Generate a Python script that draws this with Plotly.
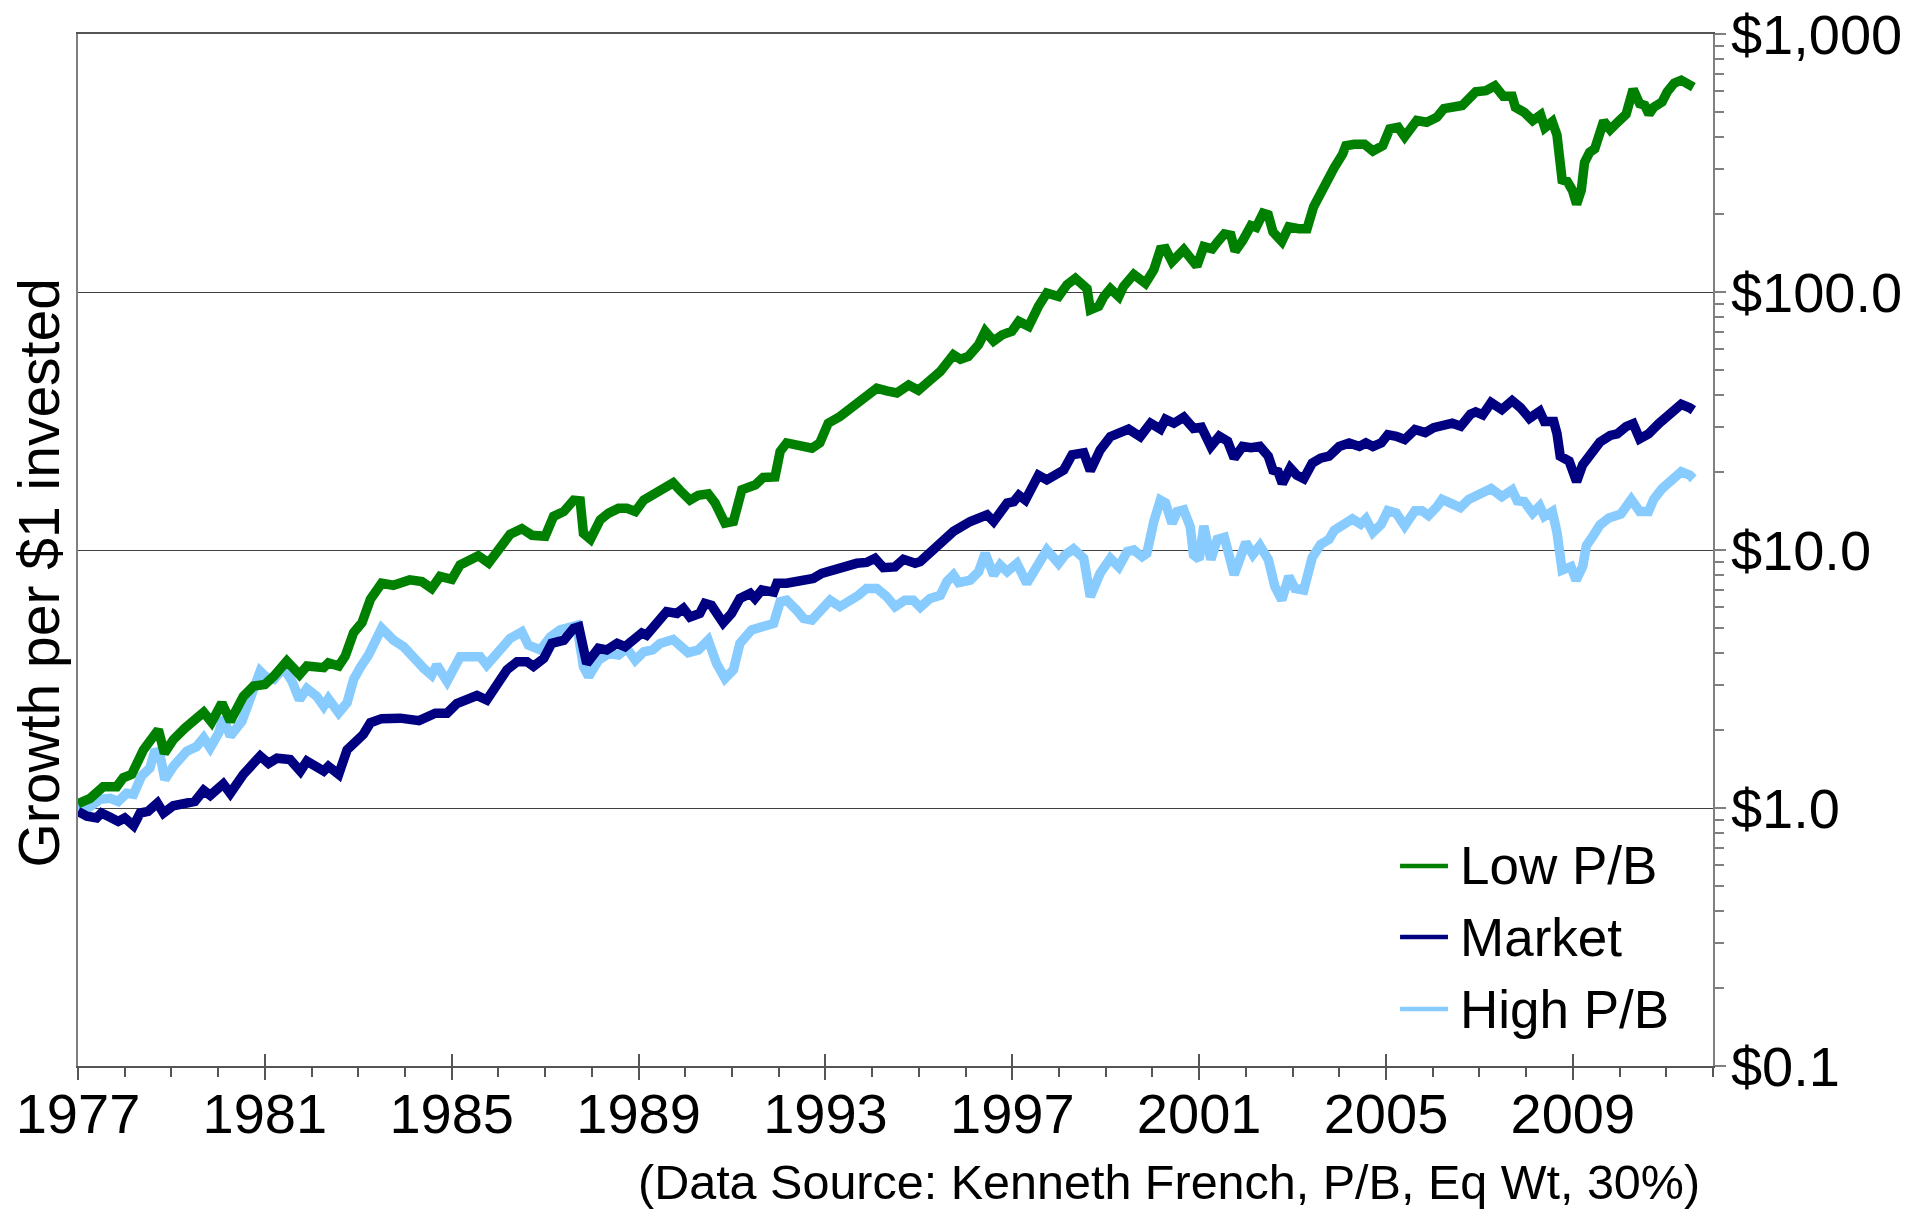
import plotly.graph_objects as go

FONT = "Liberation Sans, Arial, sans-serif"

# ---------------- data ----------------
low_pb_years = [
    1977.0, 1977.26, 1977.54, 1977.83, 1977.97, 1978.15, 1978.4, 1978.58, 1978.72, 1978.85,
    1979.04, 1979.29, 1979.5, 1979.69, 1979.86, 1980.08, 1980.26, 1980.54, 1980.76, 1981.0,
    1981.19, 1981.47, 1981.74, 1981.9, 1982.26, 1982.36, 1982.58, 1982.72, 1982.9, 1983.08,
    1983.26, 1983.5, 1983.75, 1984.1, 1984.36, 1984.57, 1984.75, 1985.0, 1985.18, 1985.57,
    1985.79, 1986.0, 1986.25, 1986.5, 1986.72, 1987.0, 1987.18, 1987.4, 1987.61, 1987.75,
    1987.82, 1987.97, 1988.18, 1988.36, 1988.57, 1988.75, 1988.93, 1989.11, 1989.25, 1989.42,
    1989.74, 1989.89, 1990.1, 1990.28, 1990.49, 1990.64, 1990.85, 1991.03, 1991.21, 1991.5,
    1991.67, 1991.92, 1992.03, 1992.17, 1992.53, 1992.71, 1992.88, 1993.06, 1993.31, 1993.6,
    1993.88, 1994.1, 1994.31, 1994.53, 1994.78, 1994.99, 1995.24, 1995.46, 1995.74, 1995.89,
    1996.06, 1996.28, 1996.42, 1996.6, 1996.78, 1996.99, 1997.14, 1997.35, 1997.56, 1997.74,
    1997.99, 1998.17, 1998.35, 1998.6, 1998.67, 1998.85, 1998.96, 1999.1, 1999.28, 1999.38,
    1999.6, 1999.85, 2000.03, 2000.17, 2000.28, 2000.42, 2000.67, 2000.81, 2000.95, 2001.1,
    2001.28, 2001.39, 2001.54, 2001.68, 2001.77, 2001.93, 2002.11, 2002.22, 2002.37, 2002.48,
    2002.58, 2002.77, 2002.92, 2003.13, 2003.31, 2003.45, 2003.63, 2003.81, 2003.89, 2004.07,
    2004.14, 2004.32, 2004.54, 2004.72, 2004.93, 2005.08, 2005.26, 2005.4, 2005.66, 2005.87,
    2006.09, 2006.24, 2006.4, 2006.63, 2006.92, 2007.14, 2007.33, 2007.51, 2007.7, 2007.77,
    2007.96, 2008.14, 2008.31, 2008.4, 2008.56, 2008.66, 2008.77, 2008.88, 2008.99, 2009.08,
    2009.18, 2009.25, 2009.36, 2009.47, 2009.66, 2009.8, 2009.95, 2010.14, 2010.29, 2010.43,
    2010.54, 2010.63, 2010.73, 2010.91, 2011.02, 2011.17, 2011.32, 2011.5, 2011.58,
]
low_pb_values = [
    1.04, 1.09, 1.21, 1.21, 1.31, 1.35, 1.68, 1.84, 2.01, 1.63,
    1.84, 2.04, 2.17, 2.35, 2.15, 2.55, 2.17, 2.71, 2.97, 3.01,
    3.24, 3.71, 3.29, 3.55, 3.50, 3.65, 3.55, 3.88, 4.78, 5.23,
    6.44, 7.43, 7.3, 7.66, 7.55, 7.1, 7.9, 7.7, 8.75, 9.5,
    8.9, 9.86, 11.5, 12.1, 11.4, 11.3, 13.5, 14.1, 15.6, 15.5,
    11.6, 11.0, 13.1, 13.9, 14.5, 14.5, 14.1, 15.6, 16.1, 17.1,
    18.2, 17.0, 15.6, 16.3, 16.5, 15.2, 12.7, 12.9, 17.1, 17.9,
    19.1, 19.2, 24.1, 26.0, 25.3, 24.8, 26.0, 31.0, 32.9, 36.0,
    39.0, 42.4, 41.4, 40.6, 43.6, 41.6, 45.5, 49.2, 57.1, 54.9,
    56.3, 62.5, 70.4, 64.5, 68.2, 70.4, 76.9, 73.6, 88.0, 99.1,
    96.1, 106.7, 113, 103, 85.3, 88, 96, 103, 96, 105,
    117, 108, 122, 146, 147, 131, 146, 137, 126, 150,
    147, 156, 168, 166, 144, 158, 181, 178, 202, 199,
    171, 157, 179, 176, 176, 214, 249, 277, 303, 342,
    369, 374, 374, 352, 369, 429, 435, 400, 462, 455,
    476, 514, 520, 528, 597, 603, 630, 574, 574, 520,
    497, 462, 486, 433, 457, 406, 272, 268, 248, 219,
    248, 318, 348, 359, 460, 426, 453, 489, 611, 537,
    529, 489, 520, 545, 597, 645, 662, 635, 622,
]

market_years = [
    1977.0, 1977.19, 1977.4, 1977.5, 1977.69, 1977.86, 1978.0, 1978.19, 1978.33, 1978.5,
    1978.7, 1978.83, 1979.04, 1979.22, 1979.36, 1979.5, 1979.69, 1979.83, 1980.11, 1980.26,
    1980.54, 1980.72, 1980.9, 1981.08, 1981.26, 1981.54, 1981.76, 1981.9, 1982.11, 1982.26,
    1982.36, 1982.58, 1982.76, 1982.9, 1983.11, 1983.26, 1983.5, 1983.9, 1984.3, 1984.65,
    1984.9, 1985.11, 1985.36, 1985.54, 1985.75, 1985.97, 1986.18, 1986.4, 1986.61, 1986.75,
    1986.97, 1987.14, 1987.4, 1987.61, 1987.72, 1987.89, 1988.14, 1988.32, 1988.54, 1988.71,
    1988.89, 1989.07, 1989.17, 1989.39, 1989.6, 1989.82, 1989.96, 1990.1, 1990.31, 1990.42,
    1990.56, 1990.81, 1990.99, 1991.17, 1991.39, 1991.49, 1991.64, 1991.89, 1991.96, 1992.17,
    1992.46, 1992.74, 1992.92, 1993.24, 1993.46, 1993.67, 1993.88, 1994.06, 1994.24, 1994.49,
    1994.67, 1994.92, 1995.03, 1995.32, 1995.53, 1995.74, 1996.1, 1996.35, 1996.46, 1996.6,
    1996.89, 1997.03, 1997.14, 1997.28, 1997.56, 1997.74, 1997.85, 1998.1, 1998.28, 1998.53,
    1998.67, 1998.88, 1999.1, 1999.31, 1999.49, 1999.74, 1999.96, 2000.17, 2000.28, 2000.46,
    2000.67, 2000.88, 2001.05, 2001.25, 2001.43, 2001.61, 2001.75, 2001.93, 2002.11, 2002.3,
    2002.48, 2002.58, 2002.69, 2002.78, 2002.95, 2003.09, 2003.24, 2003.42, 2003.6, 2003.78,
    2004.0, 2004.21, 2004.43, 2004.57, 2004.72, 2004.9, 2005.04, 2005.22, 2005.4, 2005.62,
    2005.84, 2006.02, 2006.24, 2006.42, 2006.6, 2006.81, 2006.92, 2007.07, 2007.25, 2007.48,
    2007.7, 2007.88, 2008.07, 2008.29, 2008.39, 2008.59, 2008.66, 2008.73, 2008.92, 2009.08,
    2009.21, 2009.36, 2009.58, 2009.8, 2009.95, 2010.14, 2010.29, 2010.43, 2010.62, 2010.84,
    2011.06, 2011.32, 2011.5, 2011.58,
]
market_values = [
    0.97, 0.93, 0.915, 0.956, 0.92, 0.887, 0.915, 0.854, 0.956, 0.97,
    1.045, 0.956, 1.02, 1.03, 1.06, 1.06, 1.17, 1.12, 1.24, 1.14,
    1.35, 1.45, 1.59, 1.49, 1.56, 1.54, 1.39, 1.52, 1.45, 1.39,
    1.45, 1.35, 1.68, 1.79, 1.93, 2.14, 2.22, 2.23, 2.18, 2.33,
    2.33, 2.54, 2.66, 2.73, 2.62, 3.04, 3.43, 3.69, 3.69, 3.54,
    3.8, 4.35, 4.47, 4.97, 5.04, 3.63, 4.16, 4.1, 4.35, 4.22,
    4.47, 4.77, 4.68, 5.19, 5.77, 5.68, 5.94, 5.5, 5.68, 6.21,
    6.1, 5.22, 5.68, 6.49, 6.79, 6.49, 7.0, 6.87, 7.43, 7.43,
    7.66, 7.76, 8.12, 8.49, 8.6, 8.88, 8.95, 9.29, 8.54, 8.6,
    9.2, 8.88, 9.02, 10.1, 11.0, 11.8, 12.9, 13.3, 13.7, 12.9,
    15.2, 15.4, 16.3, 15.6, 19.5, 18.7, 19.3, 20.4, 23.4, 23.8,
    20.3, 24.4, 27.5, 28.5, 29.4, 27.5, 31.0, 29.4, 32.1, 31.0,
    32.7, 29.6, 29.9, 25.2, 27.6, 26.4, 22.7, 25.2, 24.9, 25.2,
    23.1, 20.4, 20.1, 18.1, 20.8, 19.5, 18.9, 21.7, 22.7, 23.1,
    25.2, 26.0, 25.2, 26.0, 25.2, 26.0, 28.0, 27.6, 26.8, 29.3,
    28.5, 29.8, 30.5, 31.0, 30.2, 33.6, 34.3, 33.4, 37.3, 35.0,
    37.9, 35.6, 32.4, 34.5, 31.5, 31.5, 28.3, 23.1, 22.1, 18.4,
    21.4, 23.5, 26.2, 27.8, 28.2, 30.1, 30.9, 27.0, 28.2, 30.9,
    33.5, 36.7, 35.6, 34.8,
]

high_pb_years = [
    1977.0, 1977.22, 1977.47, 1977.69, 1977.86, 1978.04, 1978.19, 1978.36, 1978.54, 1978.65,
    1978.76, 1978.86, 1979.04, 1979.19, 1979.33, 1979.54, 1979.69, 1979.83, 1980.01, 1980.11,
    1980.26, 1980.51, 1980.72, 1980.9, 1981.04, 1981.19, 1981.4, 1981.58, 1981.74, 1981.9,
    1982.11, 1982.26, 1982.36, 1982.58, 1982.76, 1982.9, 1983.04, 1983.22, 1983.5, 1983.75,
    1983.97, 1984.18, 1984.4, 1984.57, 1984.68, 1984.9, 1985.18, 1985.4, 1985.61, 1985.75,
    1986.04, 1986.25, 1986.5, 1986.64, 1986.9, 1987.11, 1987.32, 1987.57, 1987.68, 1987.82,
    1987.93, 1988.14, 1988.36, 1988.57, 1988.75, 1988.93, 1989.11, 1989.3, 1989.46, 1989.74,
    1990.06, 1990.28, 1990.49, 1990.67, 1990.85, 1991.03, 1991.17, 1991.42, 1991.67, 1991.89,
    1992.03, 1992.17, 1992.38, 1992.53, 1992.71, 1992.92, 1993.1, 1993.31, 1993.49, 1993.71,
    1993.88, 1994.1, 1994.31, 1994.49, 1994.7, 1994.88, 1995.03, 1995.24, 1995.46, 1995.6,
    1995.74, 1995.85, 1996.1, 1996.28, 1996.42, 1996.6, 1996.74, 1996.89, 1997.1, 1997.31,
    1997.46, 1997.74, 1997.99, 1998.13, 1998.31, 1998.53, 1998.67, 1998.88, 1999.1, 1999.28,
    1999.46, 1999.6, 1999.78, 1999.88, 2000.03, 2000.17, 2000.28, 2000.42, 2000.53, 2000.67,
    2000.81, 2000.88, 2001.0, 2001.1, 2001.25, 2001.39, 2001.54, 2001.75, 2002.0, 2002.15,
    2002.3, 2002.48, 2002.62, 2002.77, 2002.92, 2003.05, 2003.24, 2003.42, 2003.6, 2003.78,
    2003.89, 2004.07, 2004.28, 2004.46, 2004.57, 2004.72, 2004.9, 2005.04, 2005.22, 2005.4,
    2005.62, 2005.77, 2005.91, 2006.09, 2006.2, 2006.38, 2006.59, 2006.77, 2007.0, 2007.25,
    2007.48, 2007.7, 2007.81, 2007.96, 2008.14, 2008.29, 2008.39, 2008.56, 2008.66, 2008.77,
    2008.96, 2009.07, 2009.21, 2009.29, 2009.44, 2009.58, 2009.77, 2009.92, 2010.03, 2010.25,
    2010.43, 2010.62, 2010.73, 2010.91, 2011.06, 2011.32, 2011.5, 2011.58,
]
high_pb_values = [
    1.03, 1.0, 1.08, 1.09, 1.06, 1.14, 1.13, 1.33, 1.43, 1.68,
    1.59, 1.29, 1.45, 1.54, 1.66, 1.73, 1.87, 1.71, 1.95, 2.24,
    1.9, 2.17, 2.71, 3.39, 3.2, 3.15, 3.49, 3.1, 2.63, 2.9,
    2.71, 2.48, 2.65, 2.34, 2.56, 3.15, 3.5, 3.92, 4.97, 4.48,
    4.22, 3.8, 3.48, 3.27, 3.58, 3.1, 3.86, 3.86, 3.86, 3.58,
    4.1, 4.54, 4.82, 4.28, 4.1, 4.6, 4.9, 5.1, 5.1, 3.53,
    3.23, 3.74, 3.97, 3.92, 4.16, 3.74, 4.03, 4.1, 4.34, 4.5,
    4.0, 4.1, 4.47, 3.63, 3.18, 3.43, 4.35, 4.9, 5.04, 5.19,
    6.3, 6.39, 5.85, 5.43, 5.35, 5.85, 6.39, 6.03, 6.3, 6.68,
    7.1, 7.1, 6.6, 6.03, 6.39, 6.39, 6.0, 6.49, 6.68, 7.54,
    8.0, 7.47, 7.64, 8.24, 9.7, 8.0, 8.75, 8.24, 8.87, 7.43,
    8.24, 10.0, 8.87, 9.57, 10.1, 9.28, 6.59, 8.12, 9.28, 8.6,
    9.86, 10.0, 9.42, 9.7, 12.9, 15.6, 15.2, 12.7, 14.1, 14.3,
    12.3, 9.57, 9.2, 12.4, 9.19, 11.0, 11.2, 8.02, 10.7, 9.6,
    10.4, 9.19, 7.23, 6.4, 7.9, 7.1, 7.0, 9.33, 10.5, 11.0,
    11.9, 12.6, 13.2, 12.6, 13.2, 11.7, 12.6, 14.2, 13.9, 12.4,
    14.2, 14.2, 13.6, 14.7, 15.7, 15.2, 14.6, 15.7, 16.3, 17.3,
    16.1, 17.1, 15.5, 15.4, 13.9, 14.8, 13.5, 14.1, 11.7, 8.36,
    8.62, 7.63, 8.62, 10.4, 11.4, 12.5, 13.3, 13.7, 13.8, 15.7,
    14.1, 14.1, 15.7, 17.3, 18.4, 20.1, 19.5, 18.9,
]

series_names = ["Low P/B", "Market", "High P/B"]
series_colors = ["#008000", "#000080", "#87CBFF"]

x_tick_years = [1977, 1981, 1985, 1989, 1993, 1997, 2001, 2005, 2009]
y_tick_values = [0.1, 1, 10, 100, 1000]
y_tick_labels = ["$0.1", "$1.0", "$10.0", "$100.0", "$1,000"]

footnote = "(Data Source: Kenneth French, P/B, Eq Wt, 30%)"
y_title = "Growth per $1 invested"

# ---------------- figure ----------------
fig = go.Figure()

data_by_name = {
    "Low P/B": (low_pb_years, low_pb_values),
    "Market": (market_years, market_values),
    "High P/B": (high_pb_years, high_pb_values),
}
color_by_name = dict(zip(series_names, series_colors))

# draw order: High P/B at the back, Low P/B in front
for name in ["High P/B", "Market", "Low P/B"]:
    xs, ys = data_by_name[name]
    fig.add_trace(go.Scatter(
        x=xs, y=ys, mode="lines", name=name, showlegend=False,
        line=dict(color=color_by_name[name], width=9.5),
        hoverinfo="skip",
    ))

# the overlay axis (inner half of the crossing year ticks) needs a trace
fig.add_trace(go.Scatter(x=[None], y=[None], xaxis="x2", yaxis="y",
                         showlegend=False, hoverinfo="skip"))

minor_y = [m * 10.0 ** e for e in range(-1, 3) for m in range(2, 10)]

# legend drawn in the lower-right corner of the plot (paper coordinates)
legend_line_x0 = 0.8086
legend_line_x1 = 0.8379
legend_text_x = 0.8440
legend_rows_y = [0.1938, 0.1250, 0.0552]

shapes = []
annotations = []
for name, ly in zip(series_names, legend_rows_y):
    shapes.append(dict(type="line", xref="paper", yref="paper",
                       x0=legend_line_x0, x1=legend_line_x1, y0=ly, y1=ly,
                       line=dict(color=color_by_name[name], width=4.5)))
    annotations.append(dict(text=name, xref="paper", yref="paper",
                            x=legend_text_x, y=ly, xanchor="left", yanchor="middle",
                            showarrow=False,
                            font=dict(family=FONT, size=53, color="black")))

annotations.append(dict(text=y_title, xref="paper", yref="paper", x=-0.0240, y=0.478,
                        xanchor="center", yanchor="middle", textangle=-90,
                        showarrow=False, borderpad=0,
                        font=dict(family=FONT, size=57, color="black")))
annotations.append(dict(text=footnote, xref="paper", yref="paper", x=0.9933, y=-0.1124,
                        xanchor="right", yanchor="middle", showarrow=False,
                        font=dict(family=FONT, size=48.5, color="black")))

fig.update_layout(
    width=1931, height=1211,
    margin=dict(l=78, r=218, t=34, b=145, autoexpand=False),
    paper_bgcolor="white", plot_bgcolor="white",
    font=dict(family=FONT, color="black"),
    showlegend=False,
    xaxis=dict(
        range=[1977, 2012], tickmode="array", tickvals=x_tick_years,
        ticktext=[str(v) for v in x_tick_years],
        ticks="outside", ticklen=12, tickwidth=1.5, tickcolor="#555555",
        tickfont=dict(family=FONT, size=56, color="black"),
        ticklabelstandoff=-14, ticklabeloverflow="allow",
        showline=True, linecolor="#555555", linewidth=1.5, mirror=True,
        showgrid=False, zeroline=False, automargin=False,
        minor=dict(dtick=1, tick0=1977, ticks="outside", ticklen=9,
                   tickwidth=1.5, tickcolor="#555555", showgrid=False),
    ),
    xaxis2=dict(
        overlaying="x", anchor="y", side="bottom", range=[1977, 2012],
        tickmode="array", tickvals=x_tick_years, showticklabels=False,
        ticks="inside", ticklen=12, tickwidth=1.5, tickcolor="#555555",
        showline=False, showgrid=False, zeroline=False, automargin=False,
    ),
    yaxis=dict(
        type="log", range=[-1, 3], side="right",
        tickmode="array", tickvals=y_tick_values, ticktext=y_tick_labels,
        ticks="outside", ticklen=11, tickwidth=1.5, tickcolor="#808080",
        tickfont=dict(family=FONT, size=56, color="black"),
        ticklabelstandoff=-6, ticklabeloverflow="allow",
        showline=True, linecolor="#808080", linewidth=1.5, mirror=True,
        showgrid=True, gridcolor="#404040", gridwidth=1.3, zeroline=False,
        automargin=False,
        minor=dict(tickmode="array", tickvals=minor_y, ticks="outside",
                   ticklen=9, tickwidth=1.5, tickcolor="#808080", showgrid=False),
    ),
    shapes=shapes,
    annotations=annotations,
)

# remove the page's default 8px body margin so the figure sits at the window origin
fig.write_html("out.html", config={"displayModeBar": False},
               post_script="document.body.style.margin='0px';")
